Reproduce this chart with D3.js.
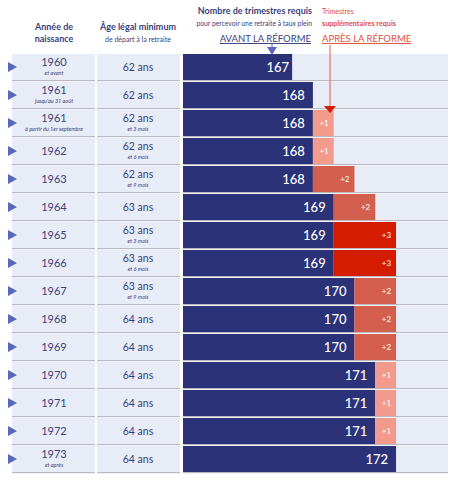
<!DOCTYPE html>
<html><head><meta charset="utf-8">
<script src="https://cdn.jsdelivr.net/npm/d3@7"></script>
<style>body{margin:0;background:#fff;}svg{display:block;font-family:Lato,"Open Sans",sans-serif;}</style>
</head><body><svg id="c" width="458" height="482"></svg>
<script>
const years = ["1960","1961","1961","1962","1963","1964","1965","1966","1967","1968","1969","1970","1971","1972","1973"];
const yearNotes = ["et avant","jusqu'au 31 août","à partir du 1er septembre","","","","","","","","","","","","et après"];
const ages = ["62 ans","62 ans","62 ans","62 ans","62 ans","63 ans","63 ans","63 ans","63 ans","64 ans","64 ans","64 ans","64 ans","64 ans","64 ans"];
const ageNotes = ["","","et 3 mois","et 6 mois","et 9 mois","","et 3 mois","et 6 mois","et 9 mois","","","","","",""];
const before = [167,168,168,168,168,169,169,169,170,170,170,171,171,171,172];
const extra = [0,0,1,1,2,2,3,3,2,2,2,1,1,1,0];

const navy="#2b3278", bg="#e8ecf7", txt="#3a3f7a";
const extraColor = d3.scaleOrdinal().domain([1,2,3]).range(["#f29b8c","#d45f4e","#d41d00"]);

const svg=d3.select("#c");
const y=d3.scaleBand().domain(d3.range(years.length)).range([54,474]).paddingInner(0);
const x=d3.scaleLinear().domain([161.75,174.5]).range([183,448]);
const rh=26;

const rows=svg.append("g").selectAll("g").data(d3.range(years.length)).join("g")
  .attr("transform",i=>`translate(0,${y(i)})`);

// cells
[[12,95],[97,180],[183,448]].forEach(([a,b])=>{
  rows.append("rect").attr("x",a).attr("y",0).attr("width",b-a).attr("height",rh).attr("fill",bg);
  rows.append("rect").attr("x",a).attr("y",rh).attr("width",b-a).attr("height",1.2).attr("fill","#b9bac4");
});
// arrows
rows.append("path").attr("d",`M8,${rh/2-5}L17,${rh/2}L8,${rh/2+5}Z`).attr("fill","#5b66bd");

// year text
rows.append("text").attr("x",54).attr("y",i=>yearNotes[i]?12:17).attr("text-anchor","middle")
  .attr("fill",txt).attr("font-size",11).text(i=>years[i]);
rows.append("text").attr("x",54).attr("y",20.5).attr("text-anchor","middle")
  .attr("fill",txt).attr("font-size",5.5).attr("font-style","italic").text(i=>yearNotes[i]);
// age text
rows.append("text").attr("x",138).attr("y",i=>ageNotes[i]?12:17).attr("text-anchor","middle")
  .attr("fill",txt).attr("font-size",10.5).text(i=>ages[i]);
rows.append("text").attr("x",138).attr("y",20.5).attr("text-anchor","middle")
  .attr("fill",txt).attr("font-size",5.5).attr("font-style","italic").text(i=>ageNotes[i]);

// bars
rows.append("rect").attr("x",x.range()[0]).attr("y",0).attr("height",rh)
  .attr("width",i=>x(before[i])-x.range()[0]).attr("fill",navy);
rows.filter(i=>extra[i]>0).append("rect").attr("x",i=>x(before[i])).attr("y",0).attr("height",rh)
  .attr("width",i=>x(before[i]+extra[i])-x(before[i])).attr("fill",i=>extraColor(extra[i]));
rows.append("text").attr("x",i=>x(before[i])-(before[i]===167?3:8)).attr("y",rh/2+4.5).attr("text-anchor","end")
  .attr("fill","#fff").attr("font-size",13).attr("font-weight",500).text(i=>before[i]);
rows.filter(i=>extra[i]>0).append("text").attr("x",i=>x(before[i]+extra[i])-5).attr("y",rh/2+3)
  .attr("text-anchor","end").attr("fill","#fff").attr("font-size",8).text(i=>"+"+extra[i]);

// headers
const h=svg.append("g");
h.append("text").attr("x",54).attr("y",30).attr("text-anchor","middle").attr("fill",txt).attr("font-size",9).attr("font-weight",700).text("Année de");
h.append("text").attr("x",54).attr("y",42).attr("text-anchor","middle").attr("fill",txt).attr("font-size",9).attr("font-weight",700).text("naissance");
h.append("text").attr("x",138).attr("y",30).attr("text-anchor","middle").attr("fill",txt).attr("font-size",9).attr("font-weight",700).text("Âge légal minimum");
h.append("text").attr("x",138).attr("y",42).attr("text-anchor","middle").attr("fill",txt).attr("font-size",7).text("de départ à la retraite");
h.append("text").attr("x",312).attr("y",14).attr("text-anchor","end").attr("fill",txt).attr("font-size",9).attr("font-weight",700).text("Nombre de trimestres requis");
h.append("text").attr("x",312).attr("y",26).attr("text-anchor","end").attr("fill",txt).attr("font-size",6.8).text("pour percevoir une retraite à taux plein");
const av=h.append("text").attr("x",311).attr("y",42).attr("text-anchor","end").attr("fill",txt).attr("font-size",9.5).attr("text-decoration","underline").text("AVANT LA RÉFORME");
h.append("text").attr("x",322).attr("y",14).attr("fill","#e0503c").attr("font-size",7).text("Trimestres");
h.append("text").attr("x",322).attr("y",26).attr("fill","#e0503c").attr("font-size",7.2).attr("font-weight",700).text("supplémentaires requis");
h.append("text").attr("x",322).attr("y",42).attr("fill","#e0503c").attr("font-size",9.5).attr("text-decoration","underline").text("APRÈS LA RÉFORME");

// pointers
const bx=272;
h.append("line").attr("x1",bx).attr("x2",bx).attr("y1",44).attr("y2",50).attr("stroke","#5b66bd").attr("stroke-width",1);
h.append("path").attr("d",`M${bx-5},47L${bx+5},47L${bx},55Z`).attr("fill","#5b66bd");
const rx=330;
h.append("line").attr("x1",rx).attr("x2",rx).attr("y1",45).attr("y2",y(2)-3).attr("stroke","#d43a2a").attr("stroke-width",0.8);
h.append("path").attr("d",`M${rx-6},${y(2)-4}L${rx+6},${y(2)-4}L${rx},${y(2)+3}Z`).attr("fill","#d41d00");
</script></body></html>
